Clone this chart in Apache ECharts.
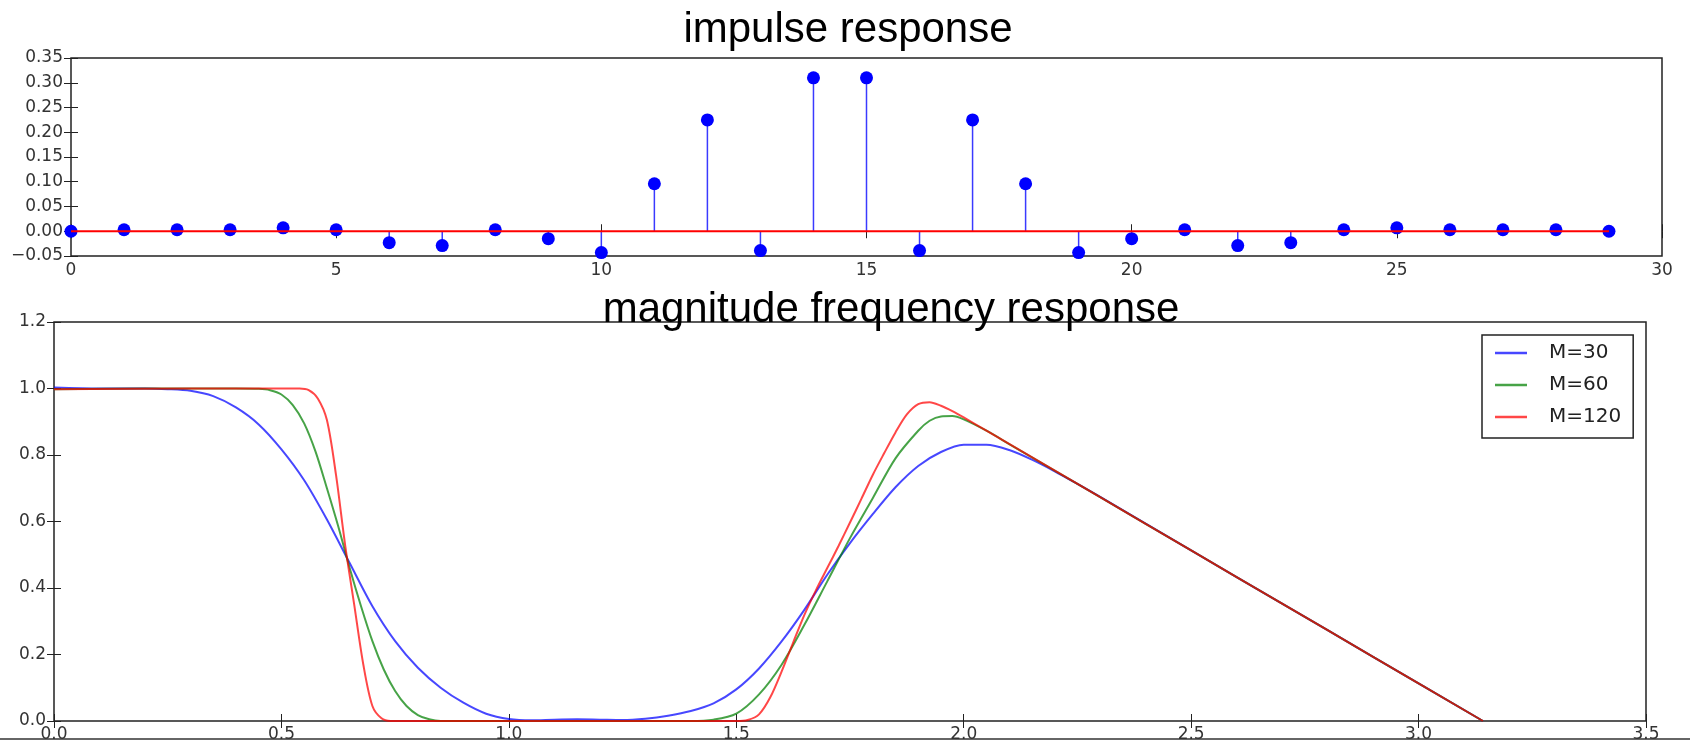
<!DOCTYPE html>
<html>
<head>
<meta charset="utf-8">
<title>impulse / magnitude response</title>
<script src="https://cdn.jsdelivr.net/npm/echarts@6/dist/echarts.min.js"></script>
<style>
    html, body { margin: 0; padding: 0; background: #fff; }
    #chart { width: 1690px; height: 752px; }
</style>
</head>
<body>
<div id="chart"></div>
<script>
// 脉冲响应 h[n]
const impulseN = [0, 1, 2, 3, 4, 5, 6, 7, 8, 9, 10, 11, 12, 13, 14, 15, 16, 17, 18, 19, 20, 21, 22, 23, 24, 25, 26, 27, 28, 29];
const impulseH = [0.000, 0.003, 0.003, 0.003, 0.007, 0.003, -0.023, -0.029, 0.003, -0.015,
                  -0.043, 0.096, 0.225, -0.039, 0.310, 0.310, -0.039, 0.225, 0.096, -0.043,
                  -0.015, 0.003, -0.029, -0.023, 0.003, 0.007, 0.003, 0.003, 0.003, 0.000];

// 幅频响应
const freqM30 = [0, 0.1, 0.2, 0.25, 0.3, 0.35, 0.4, 0.45, 0.5, 0.55, 0.6, 0.65, 0.7, 0.75, 0.8, 0.85, 0.9, 0.95, 1.0,
                 1.05, 1.1, 1.15, 1.2, 1.25, 1.3, 1.35, 1.4, 1.45, 1.5, 1.55, 1.6, 1.65, 1.7, 1.75, 1.8, 1.85, 1.9, 1.95,
                 2.0, 2.05, 2.1, 2.15, 2.2, 2.25, 2.3, 2.5, 2.7, 2.9, 3.1416];
const magM30 = [1.003, 1.0, 1.0, 0.998, 0.993, 0.977, 0.943, 0.892, 0.817, 0.724, 0.606, 0.475, 0.345, 0.24, 0.16, 0.10, 0.055, 0.022, 0.006,
                0.002, 0.004, 0.005, 0.004, 0.003, 0.007, 0.016, 0.03, 0.053, 0.095, 0.158, 0.24, 0.335, 0.44, 0.535, 0.622, 0.703, 0.767, 0.809,
                0.831, 0.831, 0.815, 0.786, 0.751, 0.713, 0.674, 0.513, 0.353, 0.193, 0.0];

const freqM60 = [0, 0.2, 0.4, 0.45, 0.475, 0.5, 0.525, 0.55, 0.575, 0.6, 0.625, 0.65, 0.675, 0.7, 0.725, 0.75, 0.775, 0.8, 0.825, 0.85,
                 1.0, 1.2, 1.4, 1.45, 1.5, 1.55, 1.6, 1.65, 1.7, 1.75, 1.8, 1.85, 1.9, 1.925, 1.95, 1.975, 2.0, 2.05, 2.1,
                 2.3, 2.5, 2.7, 2.9, 3.1416];
const magM60 = [0.998, 1.0, 1.0, 0.999, 0.995, 0.982, 0.95, 0.895, 0.81, 0.70, 0.585, 0.46, 0.345, 0.24, 0.155, 0.09, 0.045, 0.018, 0.005, 0.0,
                0.0, 0.0, 0.0, 0.004, 0.022, 0.08, 0.17, 0.29, 0.42, 0.55, 0.67, 0.79, 0.873, 0.903, 0.916, 0.917, 0.907, 0.873, 0.833,
                0.673, 0.513, 0.353, 0.193, 0.0];

const freqM120 = [0, 0.3, 0.54, 0.56, 0.58, 0.6, 0.62, 0.64, 0.66, 0.68, 0.7, 0.72, 0.74, 1.0, 1.25, 1.5,
                  1.525, 1.55, 1.575, 1.6, 1.625, 1.65, 1.675, 1.7, 1.725, 1.75, 1.775, 1.8, 1.825, 1.85, 1.875, 1.9,
                  1.925, 1.95, 1.975, 2.0, 2.05, 2.3, 2.5, 2.7, 2.9, 3.1416];
const magM120 = [0.998, 1.0, 1.0, 0.995, 0.97, 0.905, 0.74, 0.53, 0.35, 0.17, 0.045, 0.008, 0.0, 0.0, 0.0, 0.0,
                 0.003, 0.02, 0.072, 0.15, 0.236, 0.32, 0.393, 0.46, 0.527, 0.597, 0.668, 0.74, 0.805, 0.868, 0.922, 0.953,
                 0.959, 0.948, 0.932, 0.913, 0.873, 0.673, 0.513, 0.353, 0.193, 0.0];

const seriesNames = ['M=30', 'M=60', 'M=120'];
const lineColors = ['rgba(0,0,255,0.72)', 'rgba(0,128,0,0.72)', 'rgba(255,0,0,0.72)'];

const tickFont = { fontFamily: 'DejaVu Sans', fontSize: 17, color: '#333' };

function zip(xs, ys) {
    return xs.map((x, i) => [x, ys[i]]);
}

function minusSign(s) {
    return s.replace('-', '\u2212');
}

// 一条坐标轴；fmt 为空时只画刻度（matplotlib 那种四边朝内的刻度）
function makeAxis(gridIndex, position, min, max, interval, fmt, margin) {
    return {
        type: 'value',
        gridIndex: gridIndex,
        position: position,
        min: min,
        max: max,
        interval: interval,
        axisLine: { show: false },
        splitLine: { show: false },
        axisTick: { show: true, inside: true, length: 7, lineStyle: { color: '#222', width: 1 } },
        axisLabel: fmt ? Object.assign({
            show: true,
            formatter: fmt,
            margin: margin,
            showMinLabel: true,
            showMaxLabel: true
        }, tickFont) : { show: false }
    };
}

const chart = echarts.init(document.getElementById('chart'));

const fmtInt = v => String(Math.round(v));
const fmt2 = v => minusSign(v.toFixed(2));
const fmt1 = v => minusSign(v.toFixed(1));

const lineSeries = [
    [freqM30, magM30],
    [freqM60, magM60],
    [freqM120, magM120]
].map((pair, i) => ({
    name: seriesNames[i],
    type: 'line',
    xAxisIndex: 2,
    yAxisIndex: 2,
    data: zip(pair[0], pair[1]),
    symbol: 'none',
    smooth: 0.3,
    lineStyle: { color: lineColors[i], width: 2 },
    itemStyle: { color: lineColors[i] },
    z: 2 + i
}));

const titleFont = { fontFamily: 'Liberation Sans', fontSize: 42, fontWeight: 'normal', color: '#000' };

const option = {
    backgroundColor: '#fff',
    animation: false,
    title: [
        { text: 'impulse response', left: 848, top: 9, textAlign: 'center', padding: 0, textStyle: titleFont },
        { text: 'magnitude frequency response', left: 891, top: 289, textAlign: 'center', padding: 0, textStyle: titleFont }
    ],
    grid: [
        { left: 71, top: 58, width: 1591, height: 198, show: true, borderColor: '#222', borderWidth: 1.5, outerBoundsMode: 'none' },
        { left: 54, top: 322, width: 1592, height: 399, show: true, borderColor: '#222', borderWidth: 1.5, outerBoundsMode: 'none' }
    ],
    xAxis: [
        makeAxis(0, 'bottom', 0, 30, 5, fmtInt, 6),
        makeAxis(0, 'top', 0, 30, 5, null),
        makeAxis(1, 'bottom', 0, 3.5, 0.5, fmt1, 5),
        makeAxis(1, 'top', 0, 3.5, 0.5, null)
    ],
    yAxis: [
        makeAxis(0, 'left', -0.05, 0.35, 0.05, fmt2, 8),
        makeAxis(0, 'right', -0.05, 0.35, 0.05, null),
        makeAxis(1, 'left', 0, 1.2, 0.2, fmt1, 8),
        makeAxis(1, 'right', 0, 1.2, 0.2, null)
    ],
    legend: {
        data: seriesNames,
        orient: 'vertical',
        left: 1482,
        top: 335,
        padding: [8, 12, 11, 13],
        icon: 'rect',
        itemWidth: 32,
        itemHeight: 2.5,
        itemGap: 12,
        borderColor: '#222',
        borderWidth: 1.5,
        backgroundColor: '#fff',
        textStyle: { fontFamily: 'DejaVu Sans', fontSize: 20, color: '#222', padding: [0, 0, 0, 17] }
    },
    series: [
        // 茎线
        {
            name: 'stem',
            type: 'bar',
            xAxisIndex: 0,
            yAxisIndex: 0,
            data: zip(impulseN, impulseH),
            barWidth: 1.5,
            itemStyle: { color: '#3a3aff' },
            silent: true,
            z: 2
        },
        // 圆点
        {
            name: 'marker',
            type: 'scatter',
            xAxisIndex: 0,
            yAxisIndex: 0,
            data: zip(impulseN, impulseH),
            symbolSize: 13,
            itemStyle: { color: '#0000ff', opacity: 1 },
            z: 3
        },
        // 基线
        {
            name: 'baseline',
            type: 'line',
            xAxisIndex: 0,
            yAxisIndex: 0,
            data: [[impulseN[0], 0], [impulseN[impulseN.length - 1], 0]],
            symbol: 'none',
            lineStyle: { color: '#ff0000', width: 2 },
            z: 4
        }
    ].concat(lineSeries),
    // 原图底部被截掉了一截
    graphic: [
        { type: 'rect', shape: { x: 0, y: 740, width: 1690, height: 12 }, style: { fill: '#fff' }, z: 100 },
        { type: 'line', shape: { x1: 0, y1: 739, x2: 1690, y2: 739 }, style: { stroke: '#333', lineWidth: 1.5 }, z: 101 }
    ]
};

chart.setOption(option);
</script>
</body>
</html>
